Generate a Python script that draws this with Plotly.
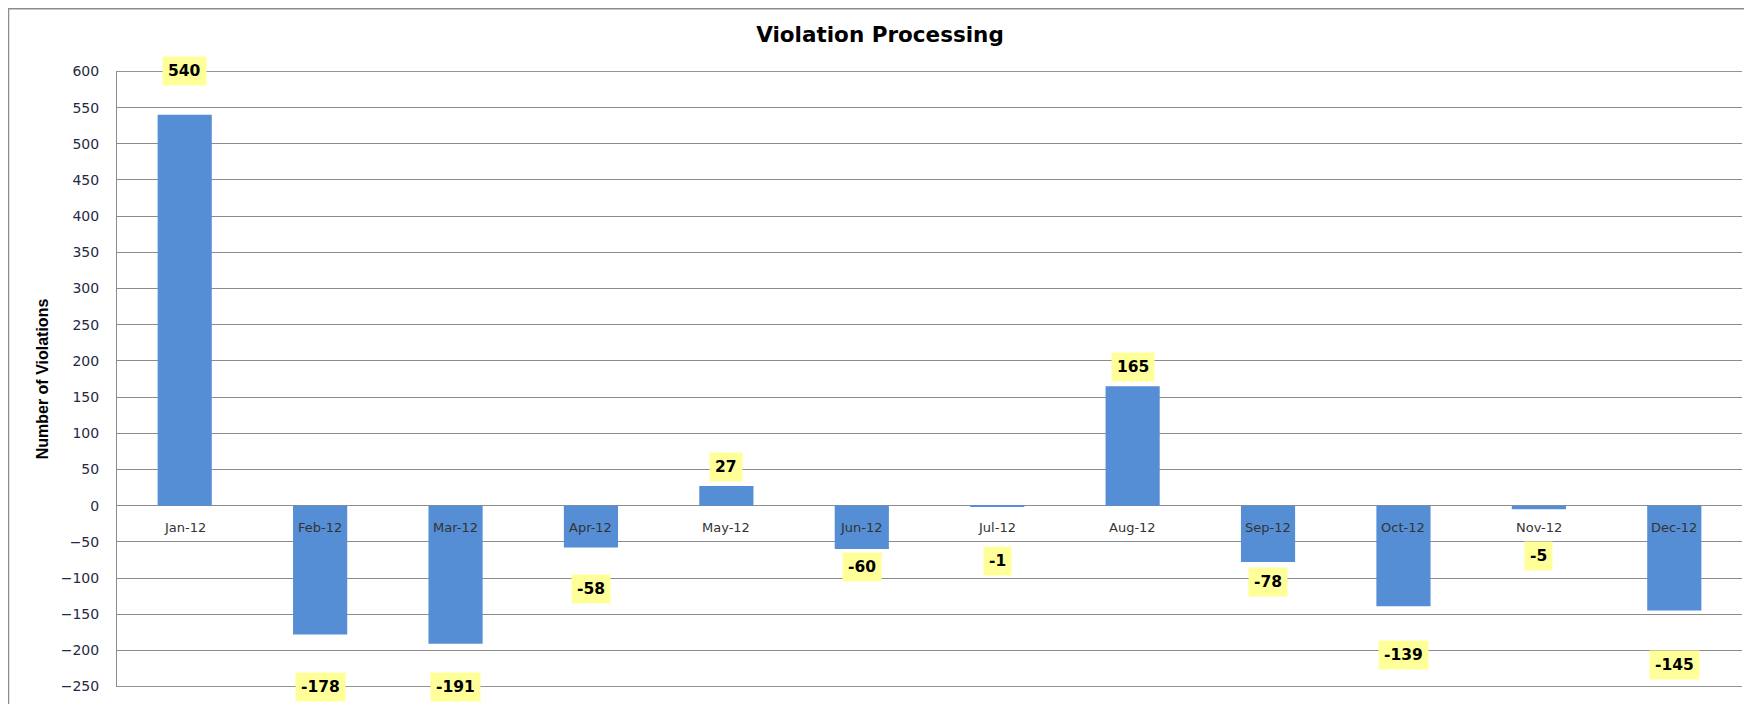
import plotly.graph_objects as go

# --- Data ---
months = ["Jan-12", "Feb-12", "Mar-12", "Apr-12", "May-12", "Jun-12",
          "Jul-12", "Aug-12", "Sep-12", "Oct-12", "Nov-12", "Dec-12"]
violations = [540, -178, -191, -58, 27, -60, -1, 165, -78, -139, -5, -145]

# where Excel dropped each data label (in axis units)
label_y = [600, -250, -250, -115, 54, -85, -76, 192, -105, -207, -69, -220]

y_min, y_max = -250, 600

# page body has an 8px margin, so the figure is a bit smaller than the window
W, H = 1744, 696
L, R, T, B = 109, 10, 63, 14

fig = go.Figure()
fig.add_trace(go.Bar(x=months, y=violations, marker_color="#558ED5",
                     marker_line_width=0, width=0.4, showlegend=False))

# gridlines at the two ends of the axis (plotly skips them)
for yv in (y_min, y_max):
    fig.add_shape(type="line", xref="paper", x0=0, x1=1, y0=yv, y1=yv,
                  line=dict(color="#8c8c8c", width=1), layer="below")

# data labels with yellow box
for m, v, ly in zip(months, violations, label_y):
    fig.add_annotation(x=m, y=ly, text="<b>%d</b>" % v, showarrow=False,
                       font=dict(family="DejaVu Sans", size=15.5, color="black"),
                       bgcolor="#FFFF99", borderpad=5)

# category labels sit on the zero line, like Excel does
for m in months:
    fig.add_annotation(x=m, y=0, text=m, showarrow=False, yanchor="top", yshift=-12,
                       font=dict(family="DejaVu Sans", size=13, color="#333333"))

# chart-area frame (left and top edges)
pw, ph = W - L - R, H - T - B
fx = (0.5 - L) / pw
fy = 1 + (T - 0.5) / ph
fig.add_shape(type="path", xref="paper", yref="paper",
              path="M %f,-0.2 L %f,%f L 1.01,%f" % (fx, fx, fy, fy),
              line=dict(color="#8c8c8c", width=1.5))

fig.update_layout(
    width=W, height=H,
    margin=dict(l=L, r=R, t=T, b=B),
    plot_bgcolor="white", paper_bgcolor="white",
    title=dict(text="<b>Violation Processing</b>", x=0.5, xref="container",
               y=1 - 26 / H, yanchor="middle", xanchor="center",
               font=dict(family="DejaVu Sans", size=21.5, color="black")),
    xaxis=dict(showticklabels=False, showgrid=False, showline=False, ticks=""),
    yaxis=dict(range=[y_min - 0.6, y_max + 0.6], dtick=50, showgrid=True,
               gridcolor="#8c8c8c", gridwidth=1,
               zeroline=True, zerolinecolor="#8c8c8c", zerolinewidth=1,
               showline=True, linecolor="#8c8c8c", ticks="", ticklen=0,
               ticklabelstandoff=14,
               tickfont=dict(family="DejaVu Sans", size=14, color="#1f2a44"),
               title=dict(text="<b>Number of Violations</b>", standoff=8,
                          font=dict(family="Liberation Sans Narrow, Liberation Sans",
                                    size=16, color="black"))),
)

fig.write_html("out.html")
